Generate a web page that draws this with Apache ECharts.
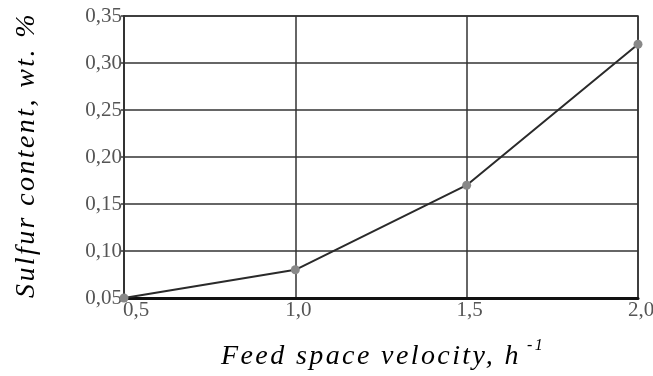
<!DOCTYPE html>
<html><head><meta charset="utf-8">
<script src="https://cdn.jsdelivr.net/npm/echarts@6/dist/echarts.min.js"></script>
<style>html,body{margin:0;padding:0;background:#fff}#c{width:653px;height:376px}</style>
</head><body><div id="c"></div>
<script>
const xValues = [0.5, 1.0, 1.5, 2.0];
const sulfur = [0.05, 0.08, 0.17, 0.32];
const yTitle = 'Sulfur content, wt. %';
const xTitle = 'Feed space velocity, h';
const xTitleSup = '-1';
const fmt = v => v.toFixed(2).replace('.', ',');
const fmtX = v => (v === 0.5 ? '{a|' : '{b|') + v.toFixed(1).replace('.', ',') + '}';

// letter spacing for the italic axis titles (canvas native letterSpacing)
const origFill = CanvasRenderingContext2D.prototype.fillText;
CanvasRenderingContext2D.prototype.fillText = function (t, x, y, m) {
  const sp = this.font.indexOf('italic') >= 0;
  if (sp) this.letterSpacing = '2.4px';
  const r = m === undefined ? origFill.call(this, t, x, y) : origFill.call(this, t, x, y, m);
  if (sp) this.letterSpacing = '0px';
  return r;
};

const lbl = {fontFamily: 'Liberation Serif', fontSize: 21, color: '#555'};
const chart = echarts.init(document.getElementById('c'));
chart.setOption({
  animation: false,
  grid: {left: 124, right: 15, top: 16, bottom: 78, containLabel: false, outerBoundsMode: 'none',
         show: true, borderColor: '#333', borderWidth: 1.5},
  xAxis: {
    type: 'value', min: 0.5, max: 2.0, interval: 0.5,
    axisLine: {show: true, lineStyle: {color: '#111', width: 3}},
    axisTick: {show: false},
    splitLine: {show: true, lineStyle: {color: '#333', width: 1.5}},
    axisLabel: Object.assign({formatter: fmtX, align: 'center', margin: 2,
      rich: {a: Object.assign({padding: [0, 0, 0, 24]}, lbl), b: Object.assign({padding: [0, 0, 0, 6]}, lbl)}}, lbl)
  },
  yAxis: {
    type: 'value', min: 0.05, max: 0.35, interval: 0.05,
    axisLine: {show: true, lineStyle: {color: '#333', width: 2}},
    axisTick: {show: true, length: 3, lineStyle: {color: '#333', width: 1.5}},
    splitLine: {show: true, lineStyle: {color: '#333', width: 1.5}},
    axisLabel: Object.assign({formatter: fmt, margin: 2}, lbl)
  },
  series: [{
    type: 'line', data: xValues.map((x, i) => [x, sulfur[i]]),
    lineStyle: {color: '#2a2a2a', width: 2},
    symbol: 'circle', symbolSize: 9,
    itemStyle: {color: '#888'}
  }],
  graphic: [
    {type: 'text', rotation: Math.PI / 2, x: 27, y: 155,
     style: {text: yTitle, font: 'italic 28px "Liberation Serif"', fill: '#000', align: 'center', verticalAlign: 'middle'}},
    {type: 'text', x: 221, y: 357,
     style: {text: xTitle, font: 'italic 28px "Liberation Serif"', fill: '#000', align: 'left', verticalAlign: 'middle'}},
    {type: 'text', x: 527, y: 346,
     style: {text: xTitleSup, font: 'italic 16px "Liberation Serif"', fill: '#000', align: 'left', verticalAlign: 'middle'}}
  ]
});
</script></body></html>
